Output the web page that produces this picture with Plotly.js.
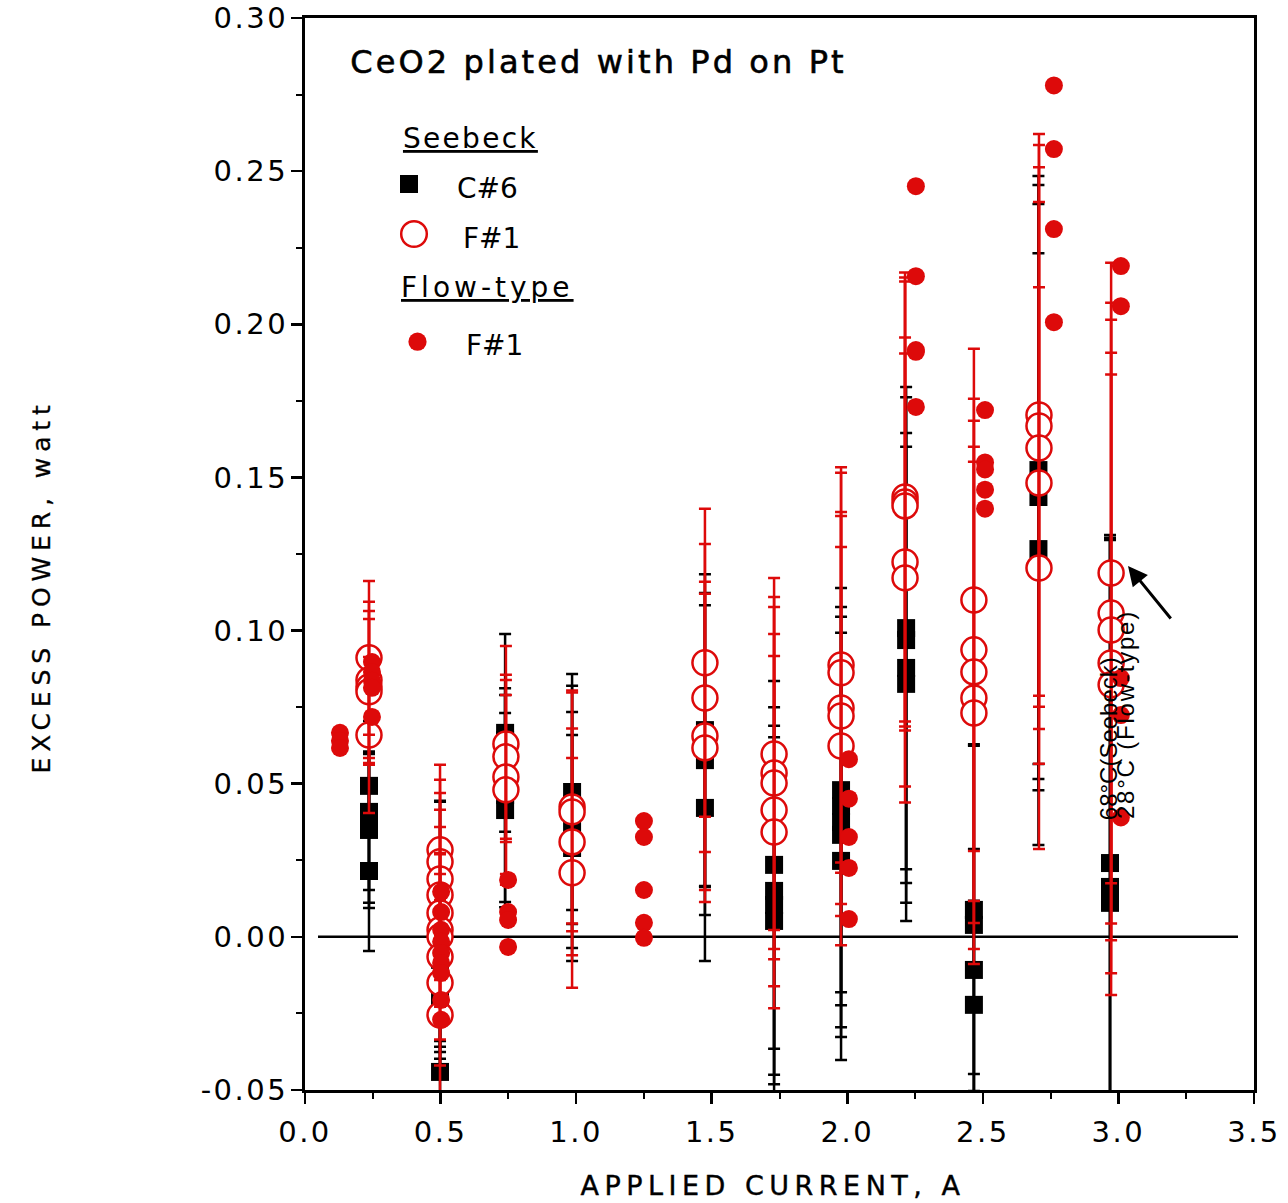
<!DOCTYPE html>
<html>
<head>
<meta charset="utf-8">
<script src="https://cdn.plot.ly/plotly-3.0.1.min.js"></script>
<style>
  body { margin: 0; background: #fff; }
  .xtick text, .ytick text { letter-spacing: 2.5px; }
  .annotation[data-index="0"] text { letter-spacing: 3.1px; stroke: #000; stroke-width: 0.6px; }
  .annotation[data-index="1"] text { letter-spacing: 2.3px; }
  .annotation[data-index="4"] text { letter-spacing: 4px; }
  .annotation[data-index="6"] text { letter-spacing: 5.9px; stroke: #000; stroke-width: 0.3px; }
  .annotation[data-index="7"] text { letter-spacing: 5.5px; stroke: #000; stroke-width: 0.4px; }
  .annotation[data-index="10"] text { letter-spacing: 1.8px; }
</style>
</head>
<body>
<div id="chart" style="width:1288px;height:1203px;"></div>
<script>
// ---------------- data ----------------
// Seebeck calorimeter, cell C#6 (black squares)
const c6X = [
  0.236, 0.236, 0.236, 0.236, 0.236,
  0.498, 0.498, 0.498, 0.498, 0.498, 0.498,
  0.738, 0.738, 0.738, 0.738,
  0.985, 0.985, 0.985, 0.985,
  1.475, 1.475, 1.475, 1.475,
  1.730, 1.730, 1.730, 1.730,
  1.977, 1.977, 1.977, 1.977, 1.977,
  2.217, 2.217, 2.217, 2.217,
  2.467, 2.467, 2.467, 2.467,
  2.705, 2.705, 2.705, 2.705,
  2.969, 2.969, 2.969
];
const c6Y = [
  0.0493, 0.0408, 0.0375, 0.0349, 0.0215,
  0.0023, -0.0010, -0.0059, -0.0075, -0.0206, -0.0441,
  0.0666, 0.0643, 0.0463, 0.0414,
  0.0473, 0.0431, 0.0349, 0.0290,
  0.0675, 0.0643, 0.0577, 0.0421,
  0.0235, 0.0150, 0.0104, 0.0052,
  0.0479, 0.0427, 0.0375, 0.0333, 0.0248,
  0.1008, 0.0969, 0.0878, 0.0826,
  0.0088, 0.0039, -0.0108, -0.0222,
  0.1524, 0.1485, 0.1436, 0.1266,
  0.0241, 0.0163, 0.0111
];
const c6Err = [
  0.0111, 0.0297, 0.0222, 0.0255, 0.0261,
  0.0421, 0.0451, 0.0300, 0.0359, 0.0170, 0.0101,
  0.0323, 0.0147, 0.0349, 0.0317,
  0.0385, 0.0389, 0.0385, 0.0369,
  0.0509, 0.0480, 0.0506, 0.0500,
  0.0600, 0.0600, 0.0585, 0.0600,
  0.0660, 0.0650, 0.0670, 0.0660, 0.0650,
  0.0787, 0.0793, 0.0767, 0.0774,
  0.0536, 0.0590, 0.0395, 0.0340,
  0.0960, 0.0970, 0.0957, 0.0966,
  0.1071, 0.1133, 0.1192
];

// Seebeck calorimeter, cell F#1 (open red circles)
const f1SeebeckX = [
  0.236, 0.236, 0.236, 0.236, 0.236,
  0.498, 0.498, 0.498, 0.498, 0.498, 0.498, 0.498, 0.498, 0.498, 0.498,
  0.741, 0.741, 0.741, 0.741,
  0.985, 0.985, 0.985, 0.985,
  1.475, 1.475, 1.475, 1.475,
  1.730, 1.730, 1.730, 1.730, 1.730,
  1.977, 1.977, 1.977, 1.977, 1.977,
  2.213, 2.213, 2.213, 2.213, 2.213,
  2.467, 2.467, 2.467, 2.467, 2.467,
  2.707, 2.707, 2.707, 2.707, 2.707,
  2.973, 2.973, 2.973, 2.973, 2.973
];
const f1SeebeckY = [
  0.0911, 0.0839, 0.0816, 0.0800, 0.0659,
  0.0284, 0.0245, 0.0189, 0.0137, 0.0078, 0.0023, 0.0000, -0.0065, -0.0150, -0.0255,
  0.0630, 0.0588, 0.0522, 0.0480,
  0.0424, 0.0408, 0.0310, 0.0209,
  0.0895, 0.0780, 0.0656, 0.0617,
  0.0597, 0.0535, 0.0502, 0.0414, 0.0342,
  0.0888, 0.0862, 0.0747, 0.0721, 0.0623,
  0.1436, 0.1420, 0.1407, 0.1224, 0.1172,
  0.1100, 0.0937, 0.0865, 0.0780, 0.0731,
  0.1704, 0.1668, 0.1596, 0.1482, 0.1204,
  0.1188, 0.1057, 0.1002, 0.0894, 0.0823
];
const f1SeebeckErr = [
  0.0251, 0.0255, 0.0248, 0.0238, 0.0255,
  0.0278, 0.0268, 0.0281, 0.0278, 0.0281, 0.0251, 0.0270, 0.0270, 0.0270, 0.0250,
  0.0320, 0.0268, 0.0317, 0.0310,
  0.0380, 0.0390, 0.0370, 0.0375,
  0.0503, 0.0503, 0.0503, 0.0503,
  0.0575, 0.0575, 0.0575, 0.0575, 0.0575,
  0.0645, 0.0653, 0.0640, 0.0653, 0.0650,
  0.0733, 0.0733, 0.0733, 0.0733, 0.0733,
  0.0820, 0.0820, 0.0820, 0.0820, 0.0820,
  0.0917, 0.0917, 0.0917, 0.0917, 0.0917,
  0.1013, 0.1013, 0.1013, 0.1013, 0.1013
];

// Flow-type calorimeter, cell F#1 (filled red circles)
const f1FlowX = [
  0.129, 0.129, 0.129,
  0.247, 0.247, 0.247, 0.247, 0.247,
  0.502, 0.502, 0.502, 0.502, 0.502, 0.502, 0.502, 0.502, 0.502,
  0.749, 0.749, 0.749, 0.749,
  1.250, 1.250, 1.250, 1.250, 1.250,
  2.006, 2.006, 2.006, 2.006, 2.006,
  2.253, 2.253, 2.253, 2.253, 2.253,
  2.508, 2.508, 2.508, 2.508, 2.508,
  2.762, 2.762, 2.762, 2.762,
  3.009, 3.009, 3.009, 3.009, 3.009
];
const f1FlowY = [
  0.0666, 0.0640, 0.0617,
  0.0897, 0.0865, 0.0836, 0.0813, 0.0718,
  0.0147, 0.0081, 0.0023, -0.0016, -0.0053, -0.0085, -0.0118, -0.0206, -0.0271,
  0.0186, 0.0081, 0.0055, -0.0033,
  0.0378, 0.0326, 0.0153, 0.0046, -0.0003,
  0.0580, 0.0451, 0.0326, 0.0225, 0.0058,
  0.2451, 0.2157, 0.1916, 0.1910, 0.1730,
  0.1720, 0.1549, 0.1526, 0.1460, 0.1398,
  0.2780, 0.2572, 0.2311, 0.2007,
  0.2190, 0.2059, 0.0845, 0.0724, 0.0390
];

// axis ticks
const xTickVals = [0, 0.5, 1.0, 1.5, 2.0, 2.5, 3.0, 3.5];
const xTickText = ['0.0', '0.5', '1.0', '1.5', '2.0', '2.5', '3.0', '3.5'];
const xMinorVals = [0.25, 0.75, 1.25, 1.75, 2.25, 2.75, 3.25];
const yTickVals = [-0.05, 0, 0.05, 0.10, 0.15, 0.20, 0.25, 0.30];
const yTickText = ['-0.05', '0.00', '0.05', '0.10', '0.15', '0.20', '0.25', '0.30'];
const yMinorVals = [-0.025, 0.025, 0.075, 0.125, 0.175, 0.225, 0.275];

// ---------------- layout helpers ----------------
const W = 1288, H = 1203;
const M = { l: 305, r: 34, t: 18, b: 113 };
const PW = W - M.l - M.r, PH = H - M.t - M.b;
const px = v => (v - M.l) / PW;          // pixel x -> paper
const py = v => (H - M.b - v) / PH;       // pixel y -> paper
const RED = '#dd0a0a';

const traces = [
  {
    name: 'C#6', x: c6X, y: c6Y, type: 'scatter', mode: 'markers',
    marker: { symbol: 'square', size: 18, color: '#000', line: { width: 0 } },
    error_y: { type: 'data', array: c6Err, visible: true, color: '#000', thickness: 2.5, width: 6 }
  },
  {
    name: 'F#1 (Seebeck)', x: f1SeebeckX, y: f1SeebeckY, type: 'scatter', mode: 'markers',
    marker: { symbol: 'circle', size: 25, color: '#fff', line: { color: RED, width: 2.5 } }
  },
  {
    name: 'F#1 (Seebeck) error', x: f1SeebeckX, y: f1SeebeckY, type: 'scatter', mode: 'markers',
    marker: { size: 2, color: 'rgba(0,0,0,0)' },
    error_y: { type: 'data', array: f1SeebeckErr, visible: true, color: RED, thickness: 2.5, width: 6 }
  },
  {
    name: 'F#1 (Flow-type)', x: f1FlowX, y: f1FlowY, type: 'scatter', mode: 'markers',
    marker: { symbol: 'circle', size: 18, color: RED, line: { width: 0 } }
  }
];

function label(text, xp, yp, size, opts) {
  return Object.assign({
    xref: 'paper', yref: 'paper', x: px(xp), y: py(yp), text: text,
    showarrow: false, xanchor: 'left', yanchor: 'middle',
    borderpad: 0, borderwidth: 0,
    font: { family: 'DejaVu Sans', size: size, color: '#000' }
  }, opts || {});
}

const annotations = [
  label('CeO2 plated with Pd on Pt', 598, 62.3, 32, { xanchor: 'center' }),
  label('<u>Seebeck</u>', 471, 138.3, 28, { xanchor: 'center' }),
  label('C#6', 457, 188.3, 28),
  label('F#1', 463, 238.3, 28),
  label('<u>Flow-type</u>', 487.5, 287.3, 28, { xanchor: 'center' }),
  label('F#1', 466, 345.3, 28),
  label('EXCESS POWER, watt', 41.3, 586, 25, { xanchor: 'center', textangle: -90,
        font: { family: 'DejaVu Sans', size: 25, color: '#000' } }),
  label('APPLIED CURRENT, A', 773, 1185.7, 27, { xanchor: 'center' }),
  { x: 3.0353, y: 0.1211, xref: 'x', yref: 'y', text: '', showarrow: true,
    ax: 44, ay: 54, arrowhead: 2, arrowsize: 1.3, arrowwidth: 3, arrowcolor: '#000', standoff: 0 },
  label('68°C(Seebeck)', 1108.7, 738.5, 24, { xanchor: 'center', textangle: -90,
        font: { family: 'Liberation Sans', size: 24, color: '#000' } }),
  label('28°C (Flow-type)', 1124.7, 715, 24, { xanchor: 'center', textangle: -90,
        font: { family: 'Liberation Sans', size: 24, color: '#000' } })
];

const shapes = [
  // zero reference line
  { type: 'line', xref: 'x', yref: 'y', x0: 0.048, x1: 3.441, y0: 0, y1: 0,
    line: { color: '#000', width: 2.5 }, layer: 'below' },
  // legend keys
  { type: 'rect', xref: 'paper', yref: 'paper', x0: px(400), x1: px(418), y0: py(193), y1: py(175),
    fillcolor: '#000', line: { width: 0 } },
  { type: 'circle', xref: 'paper', yref: 'paper', x0: px(401.2), x1: px(426.8), y0: py(246.8), y1: py(221.2),
    fillcolor: '#fff', line: { color: RED, width: 2.5 } },
  { type: 'circle', xref: 'paper', yref: 'paper', x0: px(408.4), x1: px(426.6), y0: py(350.8), y1: py(332.6),
    fillcolor: RED, line: { width: 0 } }
];

const axisCommon = {
  showgrid: false, zeroline: false, showline: true, linecolor: '#000', linewidth: 3,
  mirror: true, ticks: 'outside', ticklen: 11, tickwidth: 2.5, tickcolor: '#000',
  tickmode: 'array',
  tickfont: { family: 'DejaVu Sans', size: 29, color: '#000' }
};

const layout = {
  width: W, height: H,
  margin: M,
  paper_bgcolor: '#fff', plot_bgcolor: '#fff',
  showlegend: false,
  font: { family: 'DejaVu Sans', color: '#000' },
  xaxis: Object.assign({}, axisCommon, {
    range: [0, 3.5], tickvals: xTickVals, ticktext: xTickText, ticklabelstandoff: 3,
    minor: { tickmode: 'array', tickvals: xMinorVals, ticks: 'outside', ticklen: 6, tickwidth: 2, tickcolor: '#000', showgrid: false }
  }),
  yaxis: Object.assign({}, axisCommon, {
    range: [-0.05, 0.30], tickvals: yTickVals, ticktext: yTickText, ticklabelstandoff: -3,
    minor: { tickmode: 'array', tickvals: yMinorVals, ticks: 'outside', ticklen: 6, tickwidth: 2, tickcolor: '#000', showgrid: false }
  }),
  annotations: annotations,
  shapes: shapes
};

Plotly.newPlot('chart', traces, layout, { staticPlot: true, displayModeBar: false });
</script>
</body>
</html>
